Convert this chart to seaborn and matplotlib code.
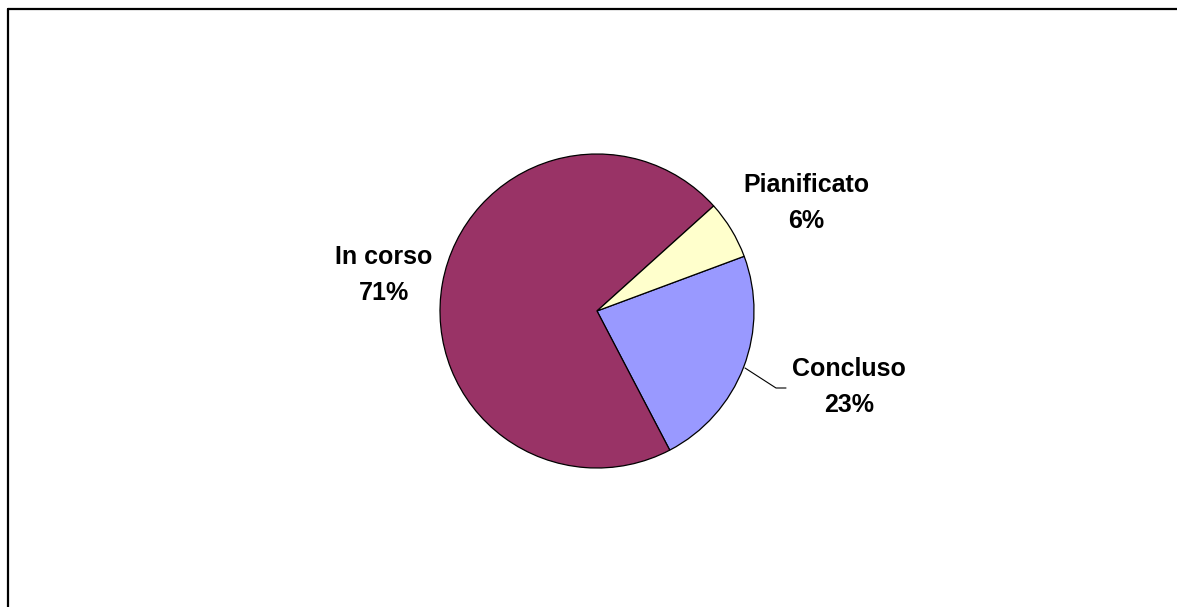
import matplotlib
matplotlib.use("Agg")
import matplotlib.pyplot as plt
from matplotlib.lines import Line2D
import seaborn as sns

# Project status breakdown (percent)
categories = ["Concluso", "In corso", "Pianificato"]
values = [23, 71, 6]
colors = ["#9999FF", "#993366", "#FFFFCC"]

sns.set_theme(style="white")
plt.rcParams["font.family"] = ["Liberation Sans", "DejaVu Sans"]

W, H = 1177, 607
fig = plt.figure(figsize=(W / 100, H / 100), dpi=100)
ax = fig.add_axes([0, 0, 1, 1])

cx, cy, r = 597, H - 311, 157
wedges, _ = ax.pie(
    values,
    colors=colors,
    startangle=20.4,
    counterclock=False,
    center=(cx, cy),
    radius=r,
    wedgeprops=dict(edgecolor="black", linewidth=0.9),
    frame=True,
)
ax.set_xlim(0, W)
ax.set_ylim(0, H)
ax.set_aspect("equal")
ax.axis("off")

total = sum(values)
label_pos = {
    "Concluso": (849, 387),
    "In corso": (384, 275),
    "Pianificato": (806, 203),
}
for name, v in zip(categories, values):
    x, y = label_pos[name]
    ax.text(x, H - y, f"{name}\n{round(100 * v / total)}%", ha="center", va="center",
            fontsize=18, fontweight="bold", linespacing=1.63, color="black")

# leader line for the Concluso label
ax.plot([745, 776, 786], [H - 368, H - 388, H - 388], color="black", lw=0.8)

# chart-area frame (top and left edges)
fig.add_artist(Line2D([8 / W, 1], [1 - 9 / H, 1 - 9 / H], transform=fig.transFigure,
                      color="black", lw=1.6))
fig.add_artist(Line2D([8 / W, 8 / W], [0, 1 - 9 / H], transform=fig.transFigure,
                      color="black", lw=1.6))

fig.savefig("out.png", dpi=100, facecolor="white")
